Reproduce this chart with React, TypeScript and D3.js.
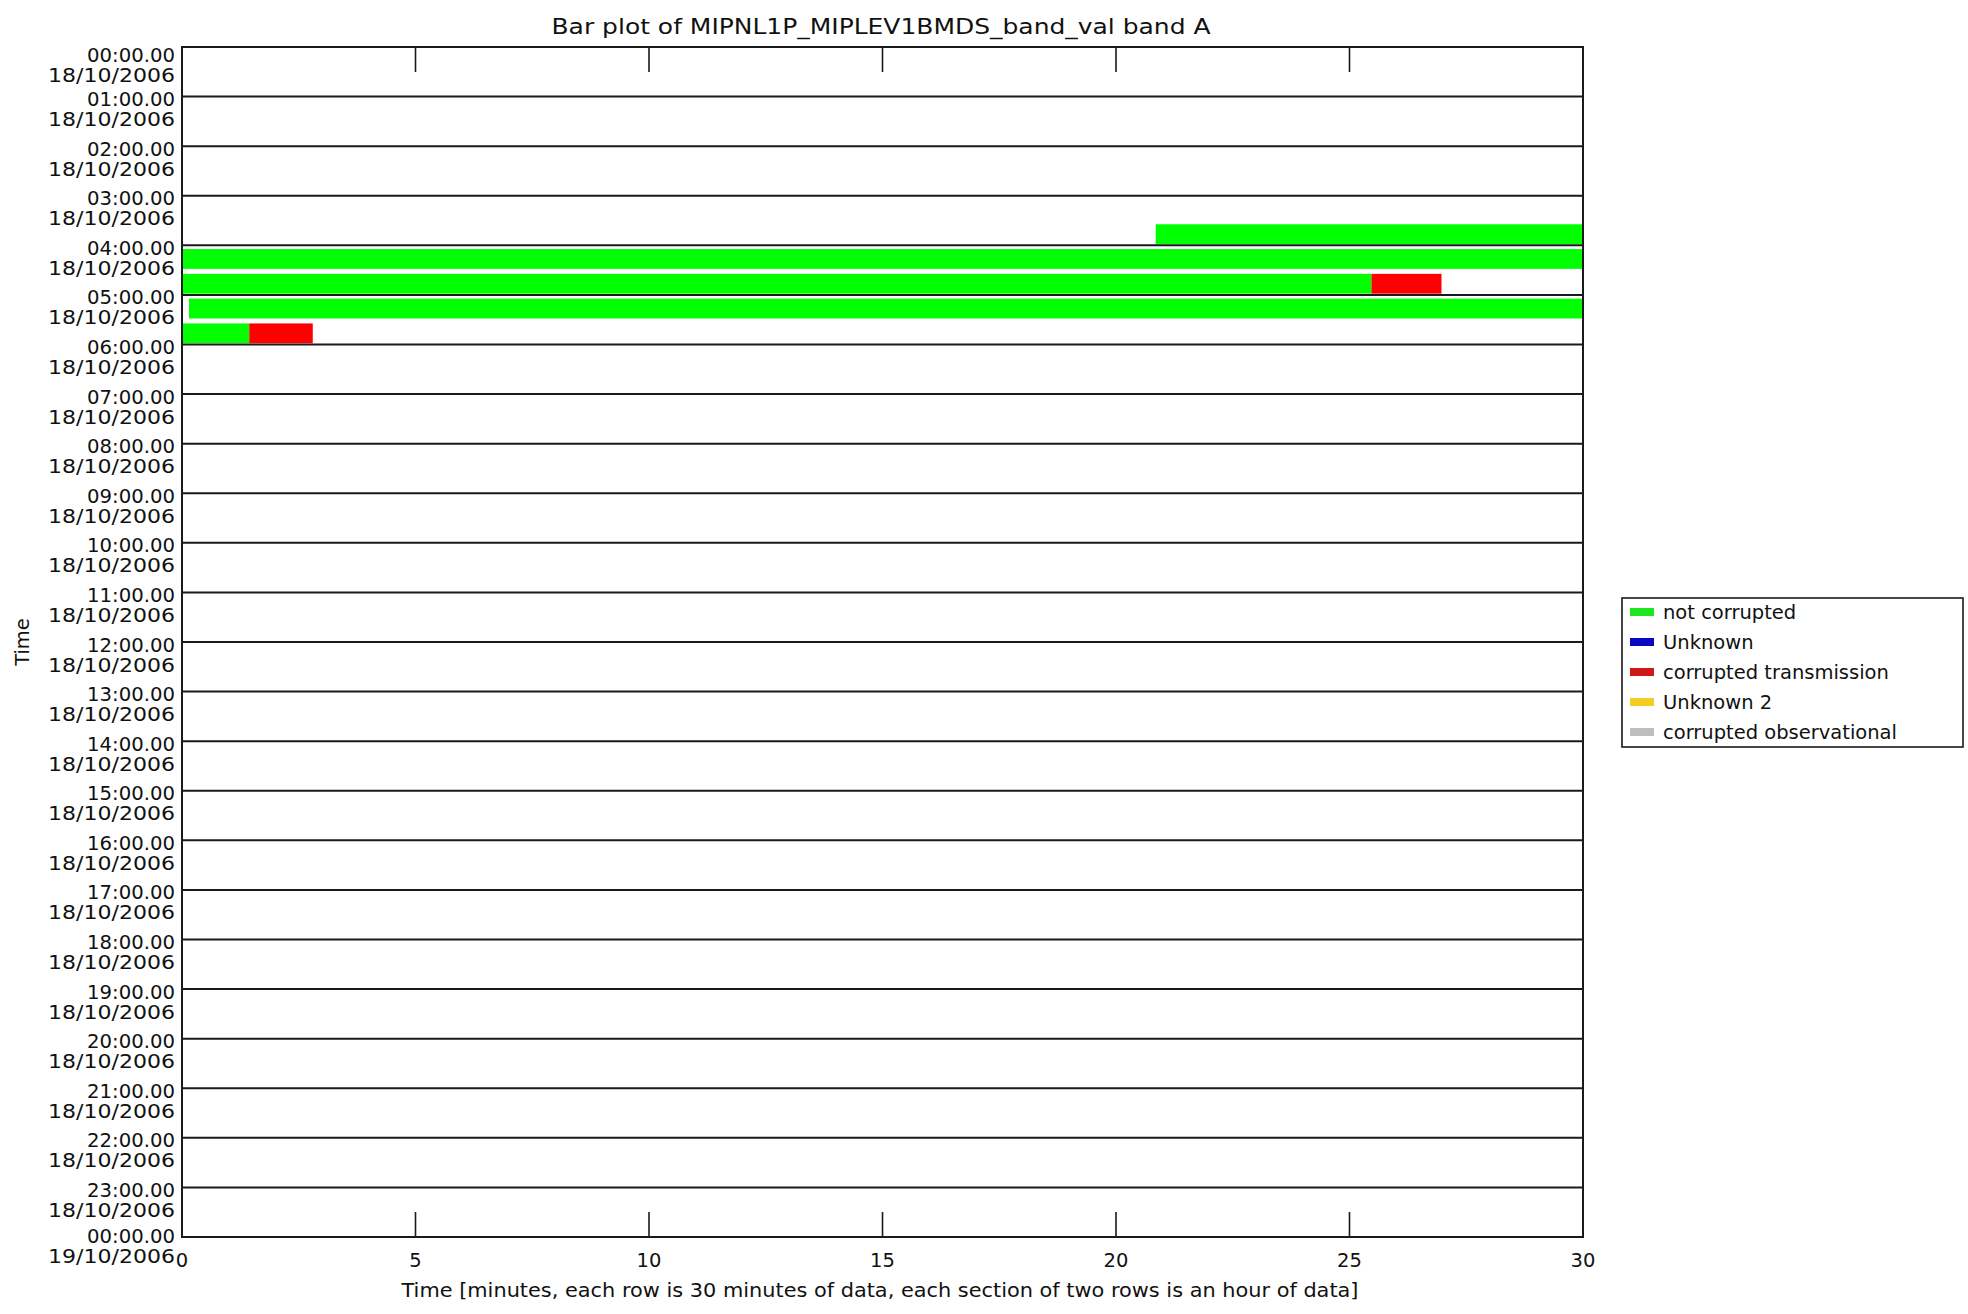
import React from "react";
import * as d3 from "d3";

const TITLE = "Bar plot of MIPNL1P_MIPLEV1BMDS_band_val band A";
const X_LABEL = "Time [minutes, each row is 30 minutes of data, each section of two rows is an hour of data]";
const Y_LABEL = "Time";

const xTicks = [0, 5, 10, 15, 20, 25, 30];

const hourLabels = [
  "00:00.00", "01:00.00", "02:00.00", "03:00.00", "04:00.00", "05:00.00",
  "06:00.00", "07:00.00", "08:00.00", "09:00.00", "10:00.00", "11:00.00",
  "12:00.00", "13:00.00", "14:00.00", "15:00.00", "16:00.00", "17:00.00",
  "18:00.00", "19:00.00", "20:00.00", "21:00.00", "22:00.00", "23:00.00",
  "00:00.00",
];
const dateLabels = [
  "18/10/2006", "18/10/2006", "18/10/2006", "18/10/2006", "18/10/2006",
  "18/10/2006", "18/10/2006", "18/10/2006", "18/10/2006", "18/10/2006",
  "18/10/2006", "18/10/2006", "18/10/2006", "18/10/2006", "18/10/2006",
  "18/10/2006", "18/10/2006", "18/10/2006", "18/10/2006", "18/10/2006",
  "18/10/2006", "18/10/2006", "18/10/2006", "18/10/2006", "19/10/2006",
];

// Segments: row index (each row = 30 minutes), start minute, end minute, status
const segRow = [7, 8, 9, 9, 10, 11, 11];
const segStart = [20.85, 0, 0, 25.47, 0.15, 0, 1.44];
const segEnd = [30, 30, 25.47, 26.97, 30, 1.44, 2.8];
const segStatus = [0, 0, 0, 2, 0, 0, 2];

const statusNames = ["not corrupted", "Unknown", "corrupted transmission", "Unknown 2", "corrupted observational"];
const statusColors = ["#00ff00", "#0000ff", "#ff0000", "#ffcc00", "#bebebe"];
const legendColors = ["#1ee61e", "#0808c0", "#d01818", "#f5cc20", "#bdbdbd"];

const W = 1968;
const H = 1314;
const L = 182;
const R = 1583;
const T = 47;
const B = 1237;
const FONT = "'DejaVu Sans', sans-serif";

export default function App() {
  const x = d3.scaleLinear().domain([0, 30]).range([L, R]);
  const yRow = d3.scaleLinear().domain([0, 48]).range([T, B]);
  const rh = yRow(1) - yRow(0);
  const hours = d3.range(0, 25);

  return (
    <svg
      width={W}
      height={H}
      style={{ position: "absolute", left: 0, top: 0, background: "#fff" }}
      fontFamily={FONT}
    >
      <rect x={0} y={0} width={W} height={H} fill="#fff" />
      <text x={881} y={34} textAnchor="middle" fontSize={20.5} fill="#111" textLength={659} lengthAdjust="spacingAndGlyphs">
        {TITLE}
      </text>

      {/* bars */}
      {segRow.map((r, i) => (
        <rect
          key={"s" + i}
          x={x(segStart[i])}
          y={yRow(r) + rh * 0.15}
          width={x(segEnd[i]) - x(segStart[i])}
          height={rh * 0.8}
          fill={statusColors[segStatus[i]]}
        />
      ))}

      {/* hour lines */}
      {hours.slice(1, 24).map((h) => (
        <line key={"h" + h} x1={L} x2={R} y1={yRow(h * 2)} y2={yRow(h * 2)} stroke="#1a1a1a" strokeWidth={2} />
      ))}

      {/* frame */}
      <rect x={L} y={T} width={R - L} height={B - T} fill="none" stroke="#1a1a1a" strokeWidth={2} />

      {/* x ticks */}
      {xTicks.slice(1, -1).map((t) => (
        <g key={"t" + t}>
          <line x1={x(t)} x2={x(t)} y1={T} y2={T + 25} stroke="#1a1a1a" strokeWidth={1.6} />
          <line x1={x(t)} x2={x(t)} y1={B} y2={B - 25} stroke="#1a1a1a" strokeWidth={1.6} />
        </g>
      ))}
      {xTicks.map((t) => (
        <text key={"xl" + t} x={x(t)} y={1267} textAnchor="middle" fontSize={19.5} fill="#111">
          {t}
        </text>
      ))}
      <text x={880} y={1297} textAnchor="middle" fontSize={19.5} fill="#111" textLength={957} lengthAdjust="spacingAndGlyphs">
        {X_LABEL}
      </text>

      {/* y labels */}
      {hours.map((h) => {
        const yy = yRow(h * 2);
        const off = h === 0 ? 15 : h === 24 ? 5.5 : 9.5;
        return (
          <g key={"yl" + h}>
            <text x={175} y={yy + off} textAnchor="end" fontSize={19.5} fill="#111" textLength={88} lengthAdjust="spacingAndGlyphs">
              {hourLabels[h]}
            </text>
            <text x={175} y={yy + off + 20} textAnchor="end" fontSize={19.5} fill="#111" textLength={127} lengthAdjust="spacingAndGlyphs">
              {dateLabels[h]}
            </text>
          </g>
        );
      })}
      <text
        transform={`translate(29, ${(T + B) / 2}) rotate(-90)`}
        textAnchor="middle"
        fontSize={19.5}
        fill="#111"
      >
        {Y_LABEL}
      </text>

      {/* legend */}
      <rect x={1622} y={598} width={341} height={149} fill="#fff" stroke="#1a1a1a" strokeWidth={1.6} />
      {statusNames.map((n, i) => {
        const cy = 612 + i * 30;
        return (
          <g key={"lg" + i}>
            <rect x={1630} y={cy - 4} width={24} height={8} fill={legendColors[i]} />
            <text x={1663} y={cy + 7} fontSize={19.5} fill="#111">
              {n}
            </text>
          </g>
        );
      })}
    </svg>
  );
}
